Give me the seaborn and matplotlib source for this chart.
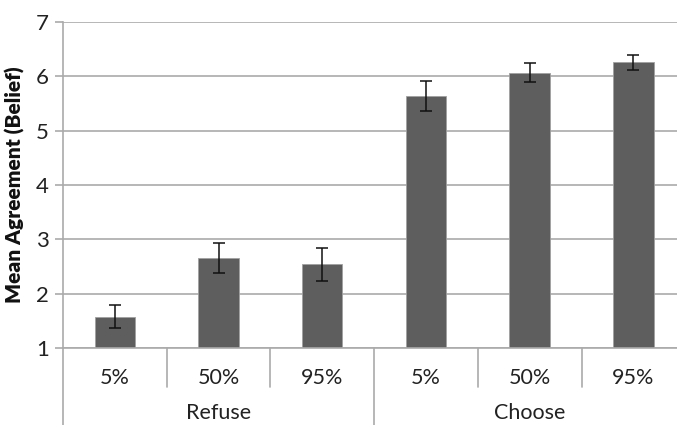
import pandas as pd
import matplotlib.pyplot as plt
import matplotlib.transforms as mtransforms
import seaborn as sns

# === DATA ===
groups = ["Refuse", "Refuse", "Refuse", "Choose", "Choose", "Choose"]
levels = ["5%", "50%", "95%", "5%", "50%", "95%"]
means = [1.58, 2.66, 2.54, 5.64, 6.07, 6.26]
errs = [0.21, 0.28, 0.30, 0.28, 0.17, 0.14]
group_names = ["Refuse", "Choose"]

df = pd.DataFrame({"Group": groups, "Level": levels, "Mean": means, "SE": errs})
df["Key"] = df["Group"] + " " + df["Level"]

sns.set_style("white")
plt.rcParams["font.family"] = ["Lato", "DejaVu Sans"]

fig = plt.figure(figsize=(6.77, 4.25), dpi=100)
ax = fig.add_axes([0.093, 0.181, 0.907, 0.767])

sns.barplot(data=df, x="Key", y="Mean", order=list(df["Key"]), color="#5e5e5e",
            edgecolor="#a0a0a0", linewidth=0.6, width=0.39, errorbar=None,
            saturation=1, ax=ax)
ax.errorbar(range(len(df)), df["Mean"], yerr=df["SE"], fmt="none",
            ecolor="#111111", elinewidth=1.1, capsize=4, capthick=1.1, zorder=5)

ax.set_ylim(1, 7)
ax.set_xlim(-0.5, 5.42)
ax.set_yticks(range(1, 8))
ax.yaxis.grid(True, color="#aaaaaa", linewidth=1.2)
ax.set_axisbelow(True)
ax.tick_params(axis="y", length=6, width=1.2, color="#aaaaaa", labelsize=16,
               labelcolor="#222222", pad=4, left=True)
ax.set_ylabel("Mean Agreement (Belief)", fontsize=15, fontweight="heavy",
              color="#111111", labelpad=8)

ax.set_xticks(range(len(df)))
ax.set_xticklabels(df["Level"], fontsize=15.5, color="#222222")
ax.tick_params(axis="x", length=0, pad=14)
ax.set_xlabel("")

for s in ["top", "right"]:
    ax.spines[s].set_visible(False)
for s in ["left", "bottom"]:
    ax.spines[s].set_color("#aaaaaa")
    ax.spines[s].set_linewidth(1.2)

# two-level category axis
trans = mtransforms.blended_transform_factory(ax.transData, ax.transAxes)
n = len(df)
for i in range(0, n):
    bottom = -0.25 if i % 3 == 0 else -0.12
    ax.plot([i - 0.5, i - 0.5], [0, bottom], transform=trans, color="#aaaaaa",
            linewidth=1.2, clip_on=False)
for gi, g in enumerate(group_names):
    ax.text(gi * 3 + 1, -0.2, g, transform=trans, ha="center", va="center",
            fontsize=15.5, color="#222222")

fig.savefig("out.png", dpi=100)
